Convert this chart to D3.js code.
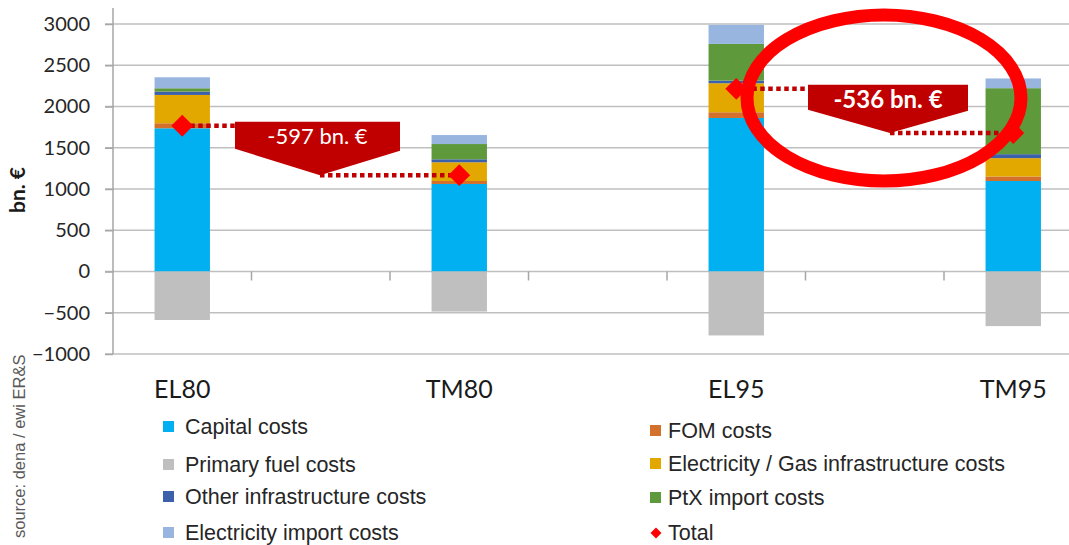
<!DOCTYPE html>
<html>
<head>
<meta charset="utf-8">
<script src="https://cdn.jsdelivr.net/npm/d3@7"></script>
<style>
  body { margin: 0; background: #fff; }
  svg { display: block; }
</style>
</head>
<body>
<div id="chart"></div>
<script>
var categories = ['EL80', 'TM80', 'EL95', 'TM95'];
var capital = [1736, 1061, 1861, 1097];
var primaryFuel = [-588, -486, -775, -662];
var fom = [61, 36, 69, 55];
var elecGas = [343, 227, 352, 222];
var otherInfra = [40, 36, 32, 48];
var ptx = [41, 185, 445, 800];
var elecImport = [133, 109, 230, 118];
var yTicks = [-1000, -500, 0, 500, 1000, 1500, 2000, 2500, 3000];
var diffLabels = ['-597 bn. €', '-536 bn. €'];

var w = 1069, h = 545;

var series = [
  {key: 'capital', name: 'Capital costs', values: capital, color: '#00B0F0'},
  {key: 'primaryFuel', name: 'Primary fuel costs', values: primaryFuel, color: '#BFBFBF'},
  {key: 'fom', name: 'FOM costs', values: fom, color: '#D2702C'},
  {key: 'elecGas', name: 'Electricity / Gas infrastructure costs', values: elecGas, color: '#E3A800'},
  {key: 'otherInfra', name: 'Other infrastructure costs', values: otherInfra, color: '#3C60AA'},
  {key: 'ptx', name: 'PtX import costs', values: ptx, color: '#5E993C'},
  {key: 'elecImport', name: 'Electricity import costs', values: elecImport, color: '#97B5DF'}
];
var colorOf = {};
series.forEach(function(s){ colorOf[s.key] = s.color; });

var table = categories.map(function(c, i){
  var row = {cat: c, idx: i};
  series.forEach(function(s){ row[s.key] = s.values[i]; });
  return row;
});
var totals = table.map(function(r){
  return d3.sum(series, function(s){ return r[s.key]; });
});

var stacked = d3.stack()
  .keys(series.map(function(s){ return s.key; }))
  .offset(d3.stackOffsetDiverging)(table);

var svg = d3.select('#chart').append('svg')
  .attr('width', w)
  .attr('height', h)
  .style('font-family', 'Lato, sans-serif');

// 7 slots: categories sit on every second one, like the original Excel layout
var step = 138.5;
var x = d3.scaleBand()
  .domain(d3.range(7))
  .range([113, 113 + 7 * step]);
var xc = function(i){ return x(i * 2) + x.bandwidth() / 2; };
var barW = x.bandwidth() * 0.4;

var y = d3.scaleLinear()
  .domain([-1000, 3000])
  .range([354, 24]);

// gridlines
svg.append('g')
  .selectAll('line')
  .data(yTicks)
  .enter()
  .append('line')
  .attr('x1', 105)
  .attr('x2', w)
  .attr('y1', function(d){ return y(d); })
  .attr('y2', function(d){ return y(d); })
  .attr('stroke', '#BFBFBF')
  .attr('stroke-width', 1.5);

// y axis
var yAxis = svg.append('g')
  .attr('transform', 'translate(113,0)')
  .call(d3.axisLeft(y).tickValues(yTicks).tickSize(8).tickPadding(15).tickFormat(d3.format('d')));
yAxis.select('.domain').remove();
yAxis.selectAll('.tick line').attr('stroke', '#A6A6A6').attr('stroke-width', 1.5);
yAxis.selectAll('.tick text')
  .attr('fill', '#262626')
  .style('font-size', '20px')
  .style('font-family', 'Lato, sans-serif');
svg.append('line')
  .attr('x1', 113).attr('x2', 113)
  .attr('y1', 8).attr('y2', y(-1000))
  .attr('stroke', '#A6A6A6')
  .attr('stroke-width', 1.5);

// category ticks on zero line
svg.append('g')
  .selectAll('line')
  .data(d3.range(1, 7))
  .enter()
  .append('line')
  .attr('x1', function(d){ return x(d); })
  .attr('x2', function(d){ return x(d); })
  .attr('y1', y(0))
  .attr('y2', y(0) + 9)
  .attr('stroke', '#A6A6A6')
  .attr('stroke-width', 1.5);

// bars
svg.append('g')
  .selectAll('g')
  .data(stacked)
  .enter()
  .append('g')
  .attr('fill', function(d){ return colorOf[d.key]; })
  .selectAll('rect')
  .data(function(d){ return d; })
  .enter()
  .append('rect')
  .attr('x', function(d){ return xc(d.data.idx) - barW / 2; })
  .attr('width', barW)
  .attr('y', function(d){ return y(d[1]); })
  .attr('height', function(d){ return Math.abs(y(d[0]) - y(d[1])); });

// x labels
svg.append('g')
  .selectAll('text')
  .data(categories)
  .enter()
  .append('text')
  .attr('x', function(d, i){ return xc(i); })
  .attr('y', 398)
  .attr('text-anchor', 'middle')
  .attr('fill', '#1a1a1a')
  .style('font-size', '25px')
  .text(function(d){ return d; });

// y title
svg.append('text')
  .attr('transform', 'translate(25,190) rotate(-90)')
  .attr('text-anchor', 'middle')
  .attr('font-weight', 'bold')
  .attr('fill', '#1a1a1a')
  .style('font-size', '21px')
  .text('bn. €');

// source
svg.append('text')
  .attr('transform', 'translate(25,538) rotate(-90)')
  .attr('fill', '#595959')
  .style('font-family', '"Liberation Sans", Arial, sans-serif')
  .style('font-size', '16.5px')
  .text('source:  dena / ewi ER&S');

// difference callouts
var callouts = [
  {from: 0, to: 1, label: diffLabels[0], x0: 235, x1: 400, xp: 320, bl: 27, br: 29, bold: false, size: 22, ty: 22},
  {from: 2, to: 3, label: diffLabels[1], x0: 808, x1: 968, xp: 890, bl: 25, br: 26, bold: true, size: 24, ty: 23}
];
var dl = svg.append('g');
callouts.forEach(function(c){
  var yf = y(totals[c.from]), yt = y(totals[c.to]);
  var top = yf - 4;
  dl.append('line')
    .attr('x1', xc(c.from)).attr('x2', c.x0)
    .attr('y1', yf).attr('y2', yf);
  dl.append('line')
    .attr('x1', c.xp).attr('x2', xc(c.to))
    .attr('y1', yt).attr('y2', yt);
  svg.append('path')
    .attr('d', d3.line()([[c.x0, top], [c.x1, top], [c.x1, top + c.br], [c.xp, yt], [c.x0, top + c.bl]]) + 'Z')
    .attr('fill', '#C00000');
  svg.append('text')
    .attr('x', (c.x0 + c.x1) / 2)
    .attr('y', top + c.ty)
    .attr('text-anchor', 'middle')
    .attr('fill', '#fff')
    .attr('font-weight', c.bold ? 'bold' : 'normal')
    .style('font-size', c.size + 'px')
    .text(c.label);
});
dl.selectAll('line')
  .attr('stroke', '#C00000')
  .attr('stroke-width', 4.5)
  .attr('stroke-dasharray', '4.5,3.5');

// total markers
svg.append('g')
  .selectAll('path')
  .data(totals)
  .enter()
  .append('path')
  .attr('d', d3.symbol().type(d3.symbolSquare).size(240))
  .attr('transform', function(d, i){ return 'translate(' + xc(i) + ',' + y(d) + ') rotate(45)'; })
  .attr('fill', '#FF0000');

// legend
var legendItems = [
  {key: 'capital', col: 0, y: 427},
  {key: 'primaryFuel', col: 0, y: 465},
  {key: 'otherInfra', col: 0, y: 497},
  {key: 'elecImport', col: 0, y: 533},
  {key: 'fom', col: 1, y: 431},
  {key: 'elecGas', col: 1, y: 464},
  {key: 'ptx', col: 1, y: 498},
  {key: 'total', col: 1, y: 533}
];
var nameOf = {total: 'Total'};
series.forEach(function(s){ nameOf[s.key] = s.name; });
var colX = [163, 650];
var lg = svg.append('g')
  .style('font-family', '"Liberation Sans", Arial, sans-serif')
  .style('font-size', '21.5px');
legendItems.forEach(function(d){
  var lx = colX[d.col];
  if (d.key === 'total') {
    lg.append('path')
      .attr('d', d3.symbol().type(d3.symbolSquare).size(60))
      .attr('transform', 'translate(' + (lx + 6) + ',' + d.y + ') rotate(45)')
      .attr('fill', '#FF0000');
  } else {
    lg.append('rect')
      .attr('x', lx).attr('y', d.y - 6)
      .attr('width', 11).attr('height', 11)
      .attr('fill', colorOf[d.key]);
  }
  lg.append('text')
    .attr('x', lx + (d.col ? 18 : 22))
    .attr('y', d.y + 7)
    .attr('fill', '#262626')
    .text(nameOf[d.key]);
});

// highlight ring
svg.append('ellipse')
  .attr('cx', 884)
  .attr('cy', 98)
  .attr('rx', 137)
  .attr('ry', 83)
  .attr('fill', 'none')
  .attr('stroke', '#FF0000')
  .attr('stroke-width', 13);
</script>
</body>
</html>
